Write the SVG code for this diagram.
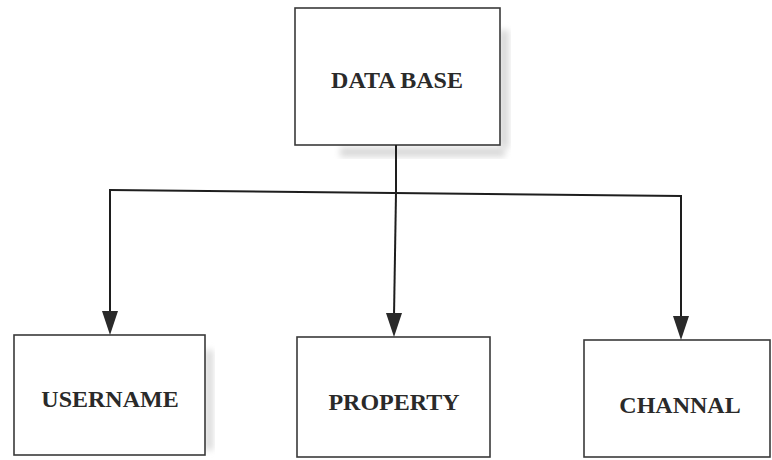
<svg xmlns="http://www.w3.org/2000/svg" width="772" height="460" viewBox="0 0 772 460">
  <style>
    .box { fill: #ffffff; stroke: #3a3a3a; stroke-width: 1.6; }
    .shadow { fill: #dadada; filter: url(#soft); }
    .label { font-family: "Liberation Serif", "Times New Roman", serif; font-weight: bold; font-size: 24px; fill: #2a2a2a; text-anchor: middle; }
    .wire { fill: none; stroke: #1e1e1e; stroke-width: 2; }
    .head { fill: #2a2a2a; }
  </style>
  <defs>
    <filter id="soft" x="-20%" y="-20%" width="140%" height="140%">
      <feGaussianBlur stdDeviation="3"/>
    </filter>
  </defs>

  <rect width="772" height="460" fill="#ffffff"/>

  <!-- root node -->
  <g id="database">
    <rect class="shadow" x="499" y="30" width="10" height="118"/>
    <rect class="shadow" x="340" y="147" width="165" height="10"/>
    <rect class="box" x="295" y="8" width="205" height="137"/>
    <text class="label" x="397" y="88">DATA BASE</text>
  </g>

  <!-- child nodes -->
  <g id="username">
    <rect class="shadow" x="205" y="350" width="8" height="100"/>
    <rect class="box" x="14" y="335" width="191" height="120"/>
    <text class="label" x="110" y="407">USERNAME</text>
  </g>

  <g id="property">
    <rect class="box" x="297" y="337" width="193" height="120"/>
    <text class="label" x="394" y="410">PROPERTY</text>
  </g>

  <g id="channal">
    <rect class="box" x="584" y="340" width="186" height="117"/>
    <text class="label" x="680" y="413">CHANNAL</text>
  </g>

  <!-- connectors: trunk, bus and three drops with arrowheads -->
  <g id="connectors">
    <line class="wire" x1="396" y1="145" x2="396" y2="193"/>
    <line class="wire" x1="110" y1="190" x2="681" y2="196"/>
    <line class="wire" x1="110" y1="189" x2="110" y2="314"/>
    <line class="wire" x1="396" y1="193" x2="394" y2="316"/>
    <line class="wire" x1="681" y1="195" x2="681" y2="319"/>
    <polygon class="head" points="102,311 118,311 110,335"/>
    <polygon class="head" points="386,313 402,313 394,337"/>
    <polygon class="head" points="673,316 689,316 681,340"/>
  </g>
</svg>
